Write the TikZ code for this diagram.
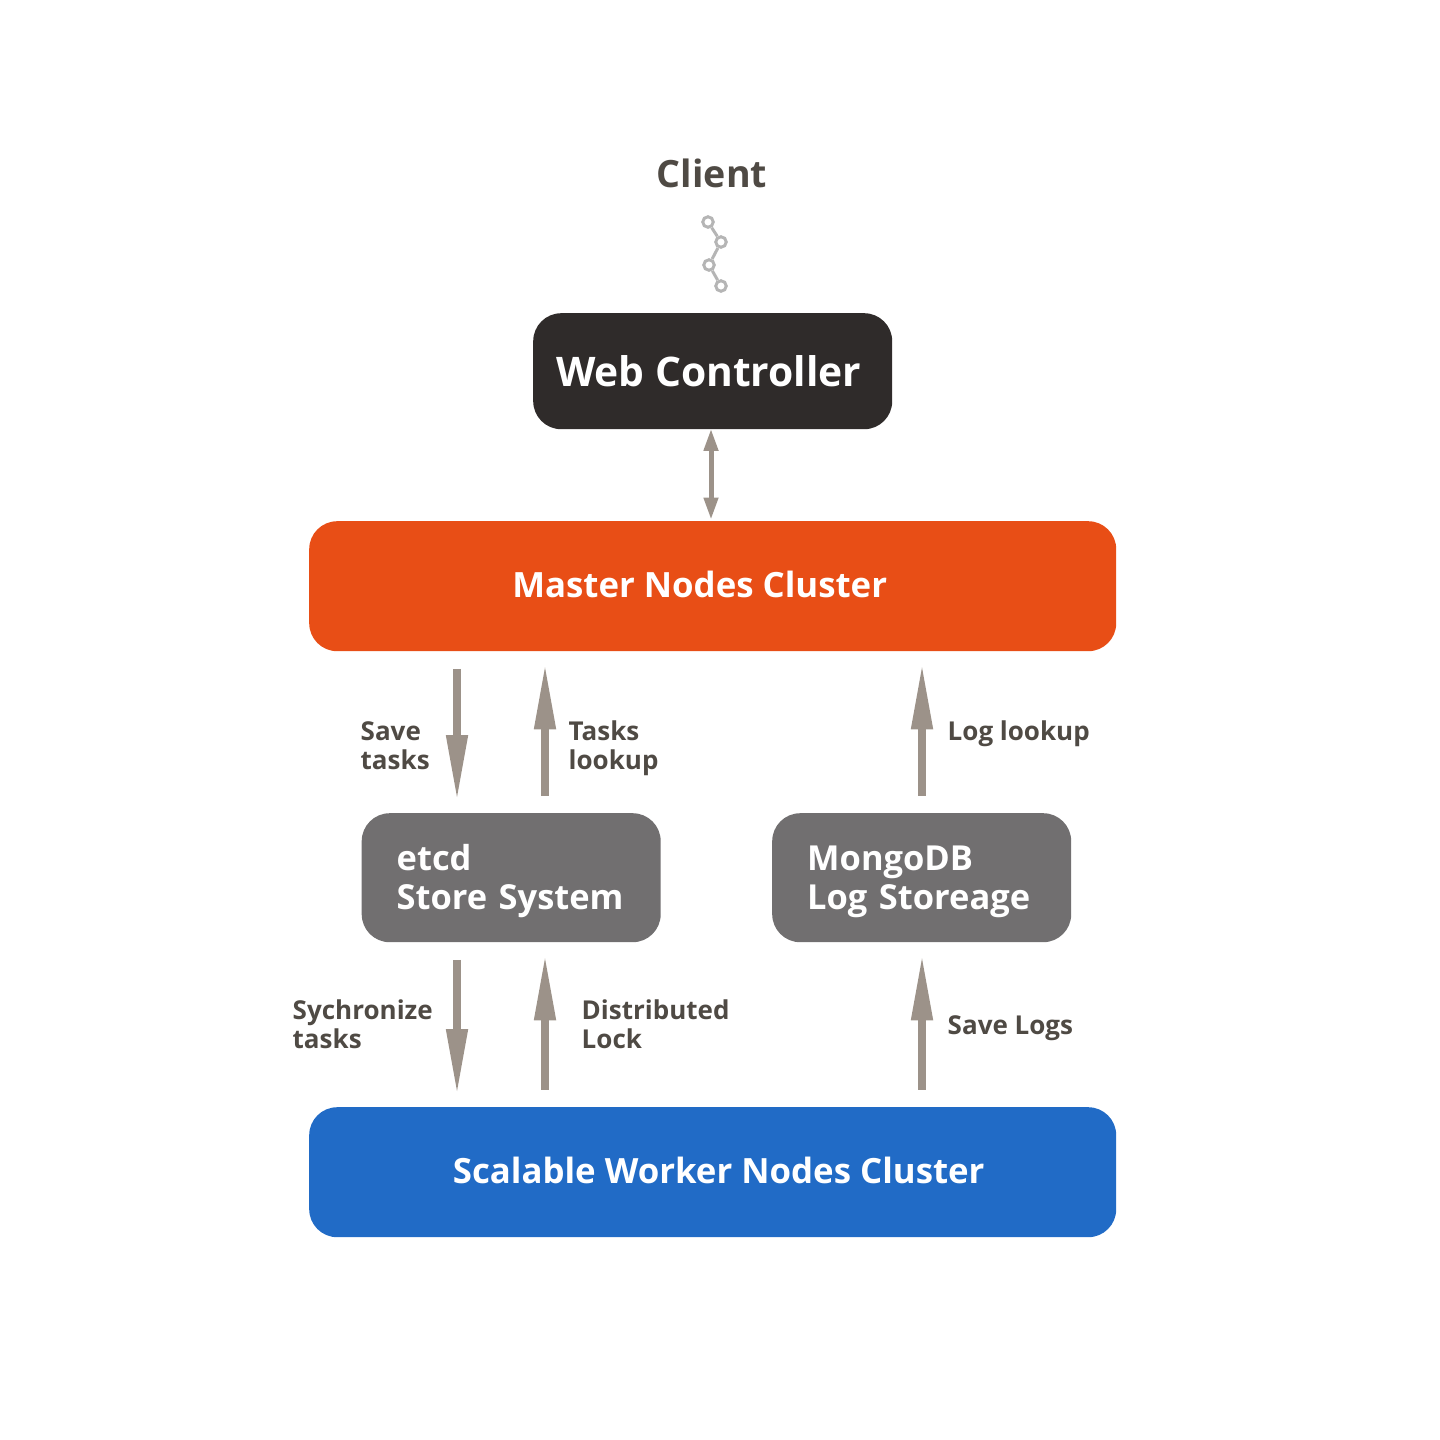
\documentclass[tikz,border=0pt]{standalone}
\usepackage{fontspec}
\setmainfont{Open Sans}[BoldFont={Open Sans Bold}]
\usetikzlibrary{arrows.meta}
\begin{document}
\begin{tikzpicture}[y=-1cm]
  % Colors
  \definecolor{webcol}{RGB}{47,43,42}
  \definecolor{mastercol}{RGB}{232,78,22}
  \definecolor{workercol}{RGB}{33,107,198}
  \definecolor{storecol}{RGB}{113,111,112}
  \definecolor{arrowcol}{RGB}{156,146,137}
  \definecolor{textcol}{RGB}{79,74,68}
  \definecolor{linkcol}{RGB}{181,181,181}
  %
  \tikzset{
    bigbox/.style={rounded corners=0.28cm, inner sep=0pt, anchor=north west, text=white,
                   font=\fontsize{9.9}{11}\selectfont\bfseries, minimum width=8.07cm, minimum height=1.30cm},
    storebox/.style={rounded corners=0.28cm, fill=storecol, inner xsep=0.35cm, inner ysep=0pt, anchor=north west,
                     text=white, text width=2.29cm, align=left, minimum height=1.29cm,
                     text height=0.33cm, text depth=0.48cm,
                     font=\fontsize{9.8}{11.1}\selectfont\bfseries},
    flow/.style={draw=arrowcol, line width=0.08cm, -{Triangle[length=0.62cm, width=0.225cm, line width=0pt]},
                 shorten >=0.155cm, shorten <=0.17cm},
    seglabel/.style={anchor=west, inner sep=0pt, text=textcol, align=left, font=\fontsize{7.4}{8.2}\selectfont\bfseries},
    linkdot/.style={circle, draw=linkcol, line width=0.03cm, inner sep=0pt, minimum size=0.105cm},
  }
  \useasboundingbox (0,0) rectangle (14.4,14.4);
  %
  %%% TOP %%%
  \node[text=textcol, font=\fontsize{10.7}{12}\selectfont\bfseries] (client) at (7.12, 1.73) {Client};
  \foreach \n/\x/\y in {1/7.08/2.22, 2/7.21/2.42, 3/7.09/2.65, 4/7.21/2.86} {
    \node[linkdot] (link\n) at (\x, \y) {};
  }
  \draw[linkcol, line width=0.03cm] (link1) -- (link2);
  \draw[linkcol, line width=0.03cm] (link2) -- (link3);
  \draw[linkcol, line width=0.03cm] (link3) -- (link4);
  %
  % Boxes
  \node[anchor=north west, rounded corners=0.28cm, fill=webcol, text=white, inner sep=0pt, minimum width=3.59cm, minimum height=1.16cm,
        font=\fontsize{11.6}{13}\selectfont\bfseries] (web) at (5.325, 3.125) {\hspace*{-0.08cm}Web Controller};
  \node[bigbox, fill=mastercol] (master) at (3.085, 5.205) {\raisebox{0.045cm}{\hspace*{-0.26cm}Master Nodes Cluster}};
  \node[storebox] (etcd) at (3.61, 8.125) {etcd\\\mbox{Store System}};
  \node[storebox] (mongo) at (7.715, 8.125) {MongoDB\\\mbox{Log Storeage}};
  \node[bigbox, fill=workercol] (worker) at (3.085, 11.065) {\raisebox{0.045cm}{\hspace*{0.12cm}Scalable Worker Nodes Cluster}};
  %
  % Arrow columns
  \coordinate (webx) at (7.11, 0);
  \coordinate (downx) at (4.57, 0);
  \coordinate (upx) at (5.45, 0);
  \coordinate (logx) at (9.22, 0);
  %
  \draw[draw=arrowcol, line width=0.05cm,
        {Triangle[length=0.21cm, width=0.155cm, line width=0pt]}-{Triangle[length=0.21cm, width=0.155cm, line width=0pt]},
        shorten >=0.02cm, shorten <=0cm] (web.south -| webx) -- (master.north -| webx);
  \draw[flow] (master.south -| downx) -- (etcd.north -| downx);
  \draw[flow] (etcd.north -| upx) -- (master.south -| upx);
  \draw[flow] (mongo.north -| logx) -- (master.south -| logx);
  \draw[flow] (etcd.south -| downx) -- (worker.north -| downx);
  \draw[flow] (worker.north -| upx) -- (etcd.south -| upx);
  \draw[flow] (worker.north -| logx) -- (mongo.south -| logx);
  %
  % Labels
  \node[seglabel] (savetasks) at (3.60, 7.455) {Save\\tasks};
  \node[seglabel] (lookup) at (5.68, 7.48) {Tasks\\lookup};
  \node[seglabel] (loglookup) at (9.47, 7.34) {Log lookup};
  \node[seglabel] (sync) at (2.92, 10.24) {Sychronize\\tasks};
  \node[seglabel] (lock) at (5.81, 10.24) {Distributed\\Lock};
  \node[seglabel] (savelogs) at (9.47, 10.28) {Save Logs};
\end{tikzpicture}
\end{document}
